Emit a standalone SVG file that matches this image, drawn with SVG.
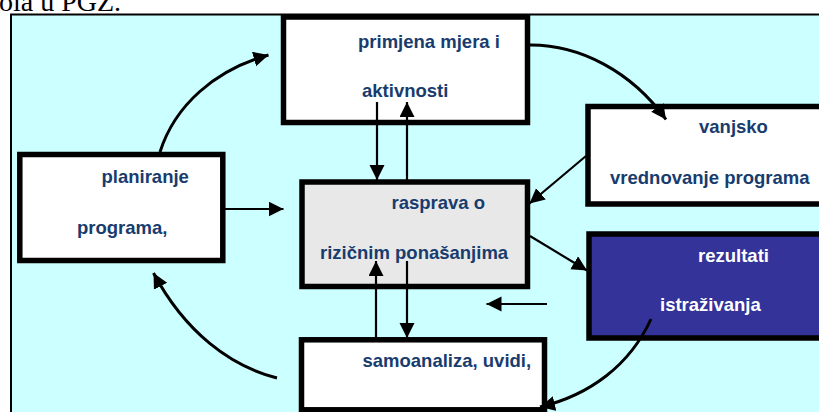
<svg xmlns="http://www.w3.org/2000/svg" width="819" height="412" viewBox="0 0 819 412">
<style>
.box{stroke:#000;stroke-width:5.5}
.t{font-family:"Liberation Sans",Arial,sans-serif;font-weight:bold;font-size:18.5px;fill:#183c6e}
.w{fill:#ffffff}
.c{fill:none;stroke:#000;stroke-width:2.2}
.cc{fill:none;stroke:#000;stroke-width:3}
</style>
<defs>
<marker id="ah" markerUnits="userSpaceOnUse" markerWidth="16" markerHeight="16" refX="15" refY="7.5" orient="auto" viewBox="0 0 16 16">
<path d="M0,0 L15,7.5 L0,15 z" fill="#000"/>
</marker>
</defs>
<rect width="819" height="412" fill="#ffffff"/>
<text x="-1" y="11" font-family="Liberation Serif,'Times New Roman',serif" font-size="28" fill="#000">ola u PGZ.</text>
<rect id="frame" x="11" y="14.5" width="820" height="420" fill="#ccffff" stroke="#000" stroke-width="2"/>
<g id="primjena">
<rect class="box" x="283.5" y="17" width="244" height="105.5" fill="#ffffff"/>
<text class="t" x="358" y="48">primjena mjera i</text>
<text class="t" x="362" y="97">aktivnosti</text>
</g>
<g id="vanjsko">
<rect class="box" x="588" y="106.5" width="250" height="97.5" fill="#ffffff"/>
<text class="t" x="699" y="133">vanjsko</text>
<text class="t" x="610" y="184">vrednovanje programa</text>
</g>
<g id="planiranje">
<rect class="box" x="19.8" y="154.5" width="203" height="106" fill="#ffffff"/>
<text class="t" x="101.5" y="183">planiranje</text>
<text class="t" x="77" y="234">programa,</text>
</g>
<g id="rasprava">
<rect class="box" x="302" y="182" width="225.5" height="104.5" fill="#e8e8e8"/>
<text class="t" x="391.5" y="209">rasprava o</text>
<text class="t" x="320" y="259">rizičnim ponašanjima</text>
</g>
<g id="rezultati">
<rect class="box" x="589" y="234" width="250" height="104" fill="#333399"/>
<text class="t w" x="698" y="262">rezultati</text>
<text class="t w" x="660" y="311">istraživanja</text>
</g>
<g id="samoanaliza">
<rect class="box" x="301.5" y="339.8" width="243" height="70" fill="#ffffff"/>
<text class="t" x="362.5" y="366.5">samoanaliza, uvidi,</text>
</g>
<g id="connectors">
<path class="c" d="M377,102 L377,180" marker-end="url(#ah)"/>
<path class="c" d="M407,180 L407,102" marker-end="url(#ah)"/>
<path class="c" d="M376,339 L376,261" marker-end="url(#ah)"/>
<path class="c" d="M407,261 L407,338" marker-end="url(#ah)"/>
<path class="c" d="M225,209 L283.5,209" marker-end="url(#ah)"/>
<path class="c" d="M530,236 L587,270.5" marker-end="url(#ah)"/>
<path class="c" d="M586,156 L529.5,203.5" marker-end="url(#ah)"/>
<path class="c" d="M547,304 L486.5,304" marker-end="url(#ah)"/>
<path class="cc" d="M160,152 C175,105 215,70 268.5,55" marker-end="url(#ah)"/>
<path class="cc" d="M528,45 C580,44 632,72 666,119.5" marker-end="url(#ah)"/>
<path class="cc" d="M277,378 C230,366 185,332 153.5,273" marker-end="url(#ah)"/>
<path class="cc" d="M651,319 C630,365 590,395 540,407" marker-end="url(#ah)"/>
</g>
</svg>
